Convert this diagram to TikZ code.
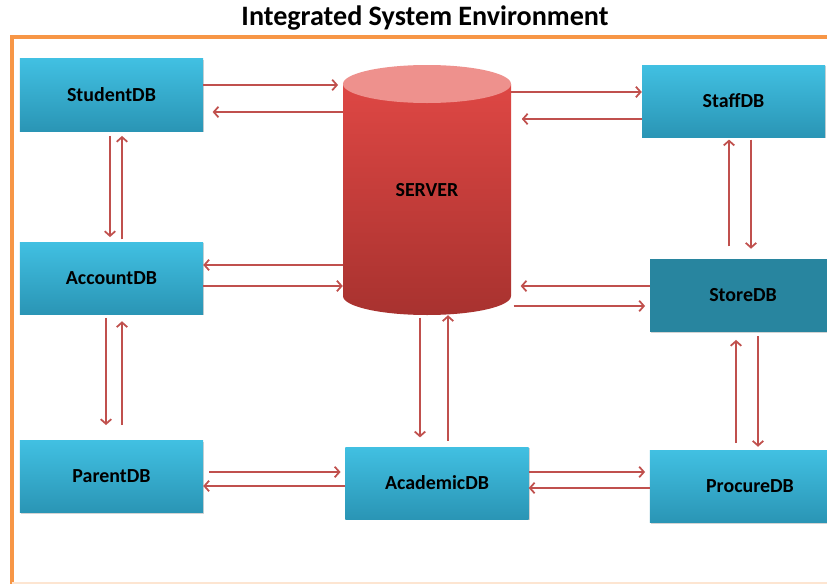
\documentclass[tikz,border=0pt]{standalone}
\usepackage{fontspec}
\setmainfont{Carlito}
\usetikzlibrary{arrows.meta,shadows}
\definecolor{dbtop}{HTML}{41C0E2}
\definecolor{dbbot}{HTML}{2A95B5}
\definecolor{storeteal}{HTML}{28859F}
\definecolor{srvtop}{HTML}{DE4744}
\definecolor{srvbot}{HTML}{A8322F}
\definecolor{srvcap}{HTML}{EE918D}
\definecolor{linkred}{HTML}{C0504D}
\definecolor{framecol}{HTML}{F79646}

\begin{document}
\begin{tikzpicture}[x=0.03cm,y=-0.03cm,
  db/.style={top color=dbtop,bottom color=dbbot,minimum width=5.49cm,minimum height=2.16cm,
    font=\fontsize{17}{20}\selectfont\bfseries,
    drop shadow={opacity=0.35,shadow xshift=1pt,shadow yshift=-1.2pt}},
  link/.style={draw=linkred,line width=1.5pt,-{Straight Barb[length=4pt,width=9pt]},shorten >=4pt}]
  \useasboundingbox (0,0) rectangle (827,584);
  \node[font=\fontsize{24}{28}\selectfont\bfseries] (title) at (425,18) {Integrated System Environment};
  \draw[framecol,line width=3pt,line cap=round] (860,37) -- (12,37) -- (12,584);
  \draw[framecol!25,line width=2pt] (12,583) -- (860,583);
  % server cylinder
  \shade[top color=srvtop,bottom color=srvbot] (343,84) -- (343,296)
    arc[start angle=180,end angle=360,x radius=2.52cm,y radius=0.57cm] -- (511,84) -- cycle;
  \fill[srvcap] (427,84) ellipse[x radius=2.52cm,y radius=0.57cm];
  \node[minimum width=5.04cm,minimum height=7.5cm,font=\fontsize{17}{20}\selectfont\bfseries] (srv) at (427,190) {SERVER};
  % databases
  \node[db] (stu) at (111.5,95) {StudentDB};
  \node[db] (acc) at (111.5,278) {AccountDB};
  \node[db] (par) at (111.5,476.5) {ParentDB};
  \node[db] (aca) at (437,483) {AcademicDB};
  \node[db] (staff) at (733.5,101) {StaffDB};
  \node[db,top color=storeteal,bottom color=storeteal,minimum width=5.58cm] (sto) at (743,295.5) {StoreDB};
  \node[db,minimum width=6cm] (pro) at (750,486.5) {ProcureDB};
  % links
  \draw[link] (stu.east |- 0,85) -- (srv.west |- 0,85);
  \draw[link,shorten >=8pt] (srv.west |- 0,112) -- (stu.east |- 0,112);
  \draw[link,shorten >=0pt] (srv.east |- 0,92) -- (staff.west |- 0,92);
  \draw[link,shorten >=9pt] (staff.west |- 0,119) -- (srv.east |- 0,119);
  \draw[link,shorten <=4pt] (stu.south -| 110,0) -- (acc.north -| 110,0);
  \draw[link,shorten <=2pt] (acc.north -| 122,0) -- (stu.south -| 122,0);
  \draw[link,shorten >=0pt] (srv.west |- 0,265) -- (acc.east |- 0,265);
  \draw[link,shorten >=0pt] (acc.east |- 0,286) -- (srv.west |- 0,286);
  \draw[link,shorten <=3pt,shorten >=13pt] (acc.south -| 106,0) -- (par.north -| 106,0);
  \draw[link,shorten <=13pt,shorten >=6pt] (par.north -| 122,0) -- (acc.south -| 122,0);
  \draw[link,shorten <=5pt] (par.east |- 0,472) -- (aca.west |- 0,472);
  \draw[link,shorten >=0pt] (aca.west |- 0,486) -- (par.east |- 0,486);
  \draw[link,shorten <=2pt,shorten >=8pt] (srv.south -| 420,0) -- (aca.north -| 420,0);
  \draw[link,shorten <=5pt,shorten >=0pt] (aca.north -| 448,0) -- (srv.south -| 448,0);
  \draw[link,shorten >=8pt] (sto.west |- 0,286) -- (srv.east |- 0,286);
  \draw[link,shorten <=2pt] (srv.east |- 0,306) -- (sto.west |- 0,306);
  \draw[link,shorten <=11pt,shorten >=2pt] (sto.north -| 729,0) -- (staff.south -| 729,0);
  \draw[link,shorten <=2pt,shorten >=9pt] (staff.south -| 751,0) -- (sto.north -| 751,0);
  \draw[link,shorten <=6pt,shorten >=7pt] (pro.north -| 736,0) -- (sto.south -| 736,0);
  \draw[link,shorten <=4pt,shorten >=3pt] (sto.south -| 758,0) -- (pro.north -| 758,0);
  \draw[link] (aca.east |- 0,472) -- (pro.west |- 0,472);
  \draw[link,shorten >=0pt] (pro.west |- 0,488) -- (aca.east |- 0,488);
\end{tikzpicture}
\end{document}
